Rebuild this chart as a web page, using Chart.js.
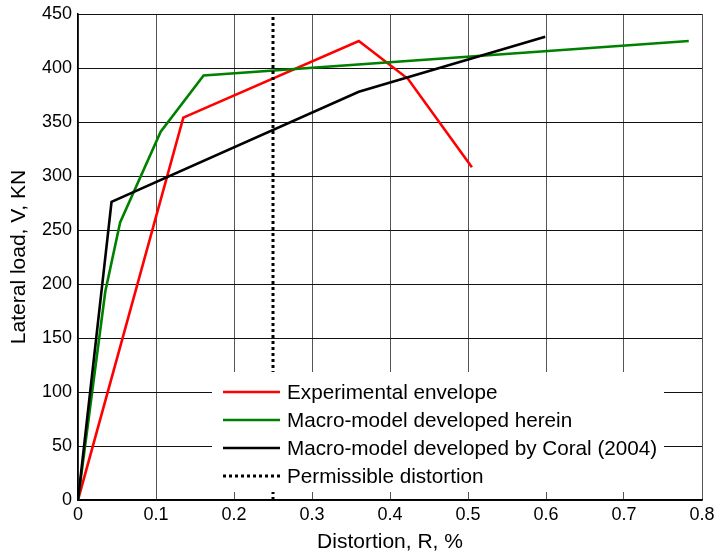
<!DOCTYPE html>
<html>
<head>
<meta charset="utf-8">
<script src="https://cdn.jsdelivr.net/npm/chart.js@4"></script>
<style>
  html, body { margin: 0; padding: 0; background: #fff; }
  #wrap { width: 715px; height: 558px; }
</style>
</head>
<body>
<div id="wrap"><canvas id="chart" width="715" height="558"></canvas></div>
<script>
// data (R in %, V in kN)
const expR = [0, 0.135, 0.36, 0.423, 0.505];
const expV = [0, 354, 425, 390, 308];

const hereinR = [0, 0.035, 0.054, 0.106, 0.161, 0.783];
const hereinV = [0, 193, 257, 341, 393, 425];

const coralR = [0, 0.043, 0.36, 0.599];
const coralV = [0, 276, 378, 429];

const permR = [0.25, 0.25];
const permV = [0, 450];

const xTicks = [0, 0.1, 0.2, 0.3, 0.4, 0.5, 0.6, 0.7, 0.8];
const yTicks = [0, 50, 100, 150, 200, 250, 300, 350, 400, 450];

const legendLabels = [
  'Experimental envelope',
  'Macro-model developed herein',
  'Macro-model developed by Coral (2004)',
  'Permissible distortion'
];

const FONT = 'Liberation Sans, Arial, sans-serif';

function pts(xs, ys) {
  return xs.map((x, i) => ({ x: x, y: ys[i] }));
}

// white legend box drawn inside the plot, like the matlab one
const boxLegend = {
  id: 'boxLegend',
  afterDatasetsDraw(chart) {
    const ctx = chart.ctx;
    const a = chart.chartArea;
    const left = a.left + 134, top = a.top + 358;
    const w = 452, h = 120;
    ctx.save();
    ctx.fillStyle = '#fff';
    ctx.fillRect(left, top, w, h);
    ctx.font = '20.7px ' + FONT;
    ctx.textBaseline = 'middle';
    chart.data.datasets.forEach((ds, i) => {
      const y = top + 20 + i * 28;
      ctx.beginPath();
      ctx.strokeStyle = ds.borderColor;
      ctx.lineWidth = ds.borderWidth;
      ctx.setLineDash(ds.borderDash || []);
      ctx.moveTo(left + 11, y);
      ctx.lineTo(left + 68, y);
      ctx.stroke();
      ctx.setLineDash([]);
      ctx.fillStyle = '#000';
      ctx.fillText(legendLabels[i], left + 75, y + 1);
    });
    ctx.restore();
  }
};

new Chart(document.getElementById('chart'), {
  type: 'scatter',
  data: {
    datasets: [
      { data: pts(expR, expV), borderColor: '#ff0000', borderWidth: 2.6, order: 4 },
      { data: pts(hereinR, hereinV), borderColor: '#008000', borderWidth: 2.6, order: 3 },
      { data: pts(coralR, coralV), borderColor: '#000000', borderWidth: 2.6, order: 2 },
      { data: pts(permR, permV), borderColor: '#000000', borderWidth: 3, borderDash: [3, 3], order: 1 }
    ].map(d => Object.assign({ showLine: true, pointRadius: 0, fill: false, tension: 0 }, d))
  },
  options: {
    responsive: false,
    animation: false,
    layout: { padding: { top: 14, right: 13, left: 0, bottom: 0 } },
    plugins: {
      legend: { display: false },
      tooltip: { enabled: false }
    },
    scales: {
      x: {
        type: 'linear',
        min: 0, max: 0.8,
        afterBuildTicks: s => { s.ticks = xTicks.map(v => ({ value: v })); },
        afterFit: s => { s.height = 58; s.paddingLeft = 0; s.paddingRight = 0; },
        ticks: {
          color: '#000', font: { family: FONT, size: 18 }, padding: 4,
          maxRotation: 0, autoSkip: false,
          callback: v => String(Math.round(v * 10) / 10)
        },
        grid: { color: '#555', lineWidth: 1, tickLength: 0 },
        border: { color: '#000', width: 1.5 },
        title: { display: true, text: 'Distortion, R, %', color: '#000', font: { family: FONT, size: 21 }, padding: { top: 0, bottom: 3 } }
      },
      y: {
        type: 'linear',
        min: 0, max: 450,
        afterBuildTicks: s => { s.ticks = yTicks.map(v => ({ value: v })); },
        afterFit: s => { s.width = 78; s.paddingTop = 0; s.paddingBottom = 0; },
        ticks: { color: '#000', font: { family: FONT, size: 18 }, padding: 6, autoSkip: false },
        grid: { color: '#111', lineWidth: 1, tickLength: 0 },
        border: { color: '#000', width: 1.5 },
        title: { display: true, text: 'Lateral load, V, KN', color: '#000', font: { family: FONT, size: 21 }, padding: { top: 7, bottom: 0 } }
      }
    }
  },
  plugins: [boxLegend]
});
</script>
</body>
</html>
